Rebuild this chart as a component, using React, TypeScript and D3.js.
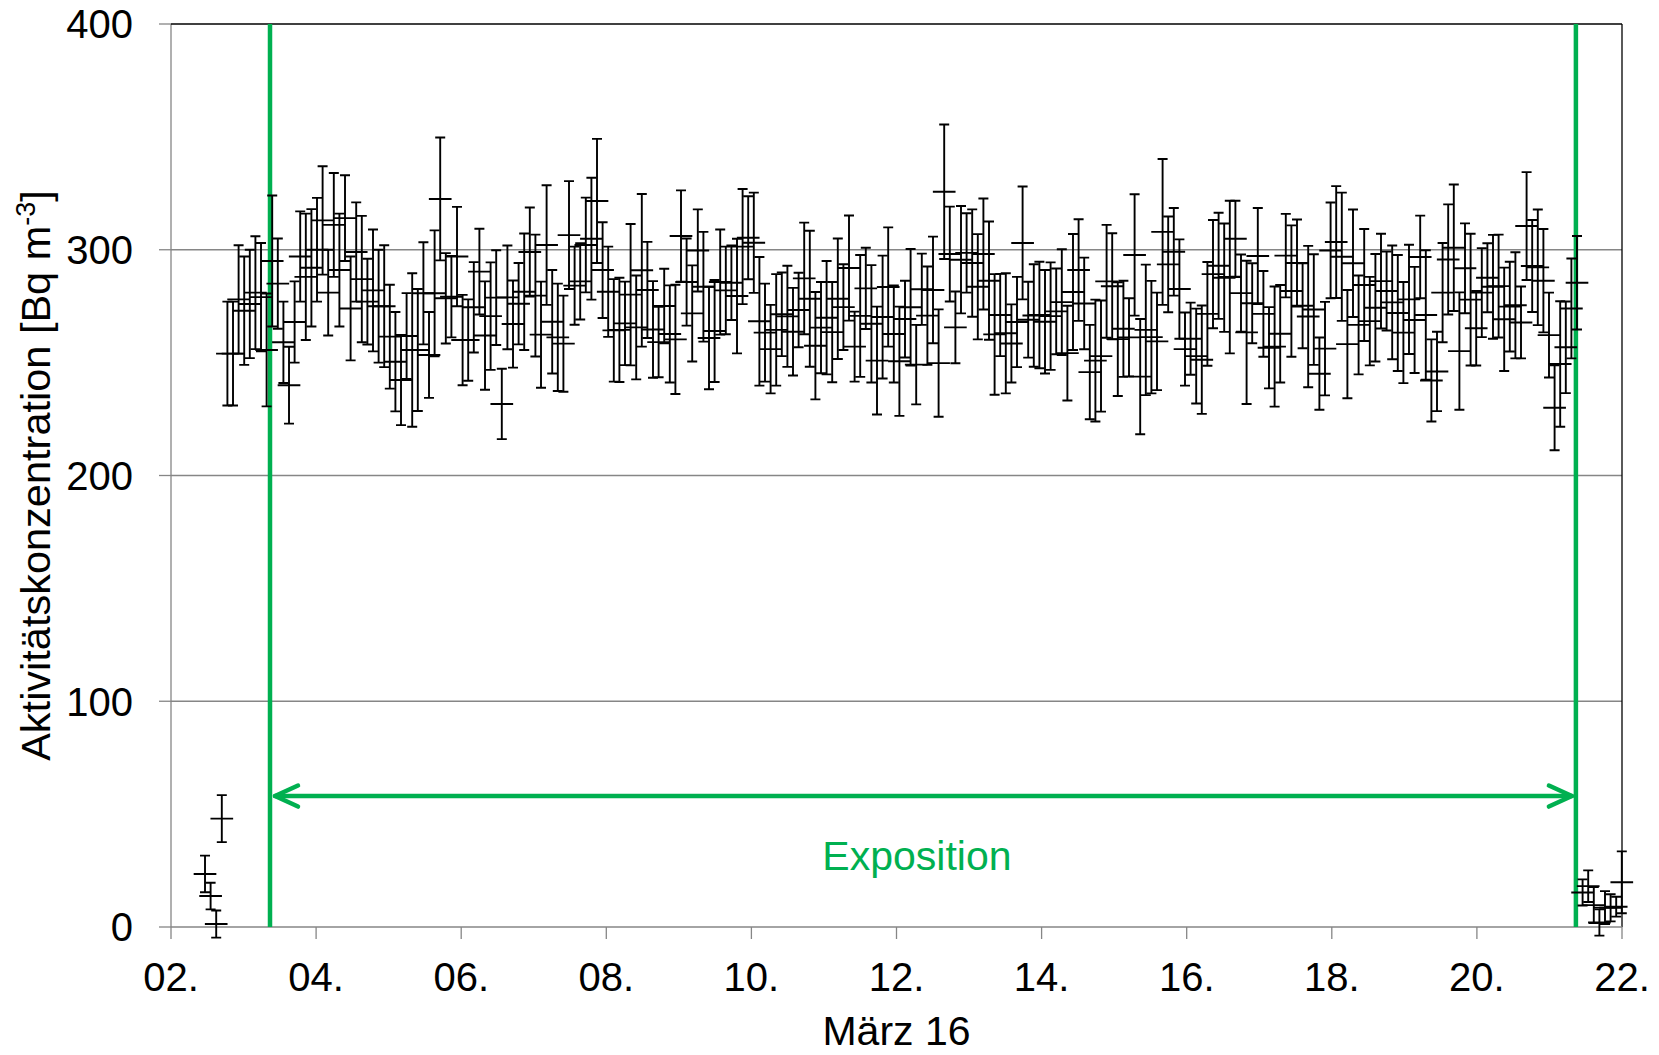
import React from "react";
import * as d3 from "d3";

// ---- data ----
const startTime = new Date(2016, 2, 2, 11, 15); // first measurement
const stepMinutes = 111.15; // sampling interval
const xErrHours = 3.75; // horizontal error (half width)

const activity: number[] = [
  23.5, 13.7, 1.3, 48,
  254, 254, 278, 273, 276, 281, 279, 255.6,
  295, 285, 259, 240, 268, 297, 288, 292, 300, 313,
  281, 311, 291, 314, 274, 299, 287, 277, 282, 275,
  275, 261.5, 250.4, 242.3, 261.8, 255.6, 255.6, 280.7, 253.4, 280.7,
  322.5, 278.5, 279.2, 297, 260, 260, 274.5, 290.3, 262,
  270.6, 278.8, 231.7, 278.9, 267.1, 276.1, 281.4, 299, 279.7, 262.4,
  302.1, 268.1, 261.2, 258.4, 306.5, 284.1, 286, 302.1, 304.9, 321.6,
  291, 281.4, 264.3, 264.5, 267.4, 280.1, 265.6, 290.9, 282.2, 264.7,
  259.1, 275.1, 262.7, 260.3, 306.1, 285.7, 271.8, 299.7, 283.6,
  260.9, 264, 285.7, 282, 285.4, 279.5, 301.4, 305.3, 303.1, 268.3,
  263.3, 256, 264.5, 271.4, 270.5, 263.7, 273.3, 287.3, 278.3, 257.5,
  265.5, 269.9, 263.5, 278.3, 274.6, 291.9, 257.1, 270.7, 282.9, 267.2,
  250.9, 270.2, 283.5, 262.7, 250.6, 269.3, 274.5, 249.1, 282.5,
  270.8, 282.2, 249.8, 325.7, 298.1, 265.6, 295.6, 298.6, 294.1, 283.6,
  298.1, 286.3, 262.5, 271.1, 263, 258.5, 268, 303, 269, 270.9,
  271.1, 268.1, 270.6, 272.7, 276.8, 254.2, 281.3, 291, 276.2, 245.8,
  250.9, 252.9, 286, 283.8, 260.4, 265, 261.2, 297.7, 243.8,
  264.5, 261.3, 259.4, 307.9, 293.5, 299.1, 282.6, 256, 260.6, 252.9,
  251.3, 271.6, 289.2, 292.9, 287.6, 287.9, 304.9, 280.8, 263.4, 276.3,
  297.2, 271.6, 256.6, 257.1, 262.8, 297.4, 281.7, 294.1, 275.2, 270.4,
  273.5, 245.1, 256.2, 299.7, 303.4, 296.9, 258.2, 294, 266.7,
  284.4, 268.4, 274.3, 286.1, 281.7, 276.7, 272, 263.3, 278, 268.9,
  296.8, 271.1, 242.1, 246.1, 281, 295.7, 300.9, 255.1, 291.8, 277.9,
  265.2, 281, 287.6, 283.6, 283.9, 269.2, 274.8, 275.4, 267.8, 310.5,
  292.8, 292.2, 286.3, 262.2, 230, 249.4, 256.8, 274, 285.4,
  15.3, 18.1, 9.7, 2, 8.6, 8.5, 9, 19.8,
];

const activityErr: number[] = [
  8.1, 5.9, 6, 10.4,
  23, 23, 24, 24, 24, 25, 24, 25,
  29, 20, 18, 17, 18, 20, 28, 26, 23, 24,
  19, 23, 25, 19, 23, 22, 28, 19, 27, 25,
  27, 23, 22, 20, 19, 34, 27, 22.6, 19, 27.9,
  27.2, 20, 18, 22, 20, 18, 20, 19, 24,
  23.8, 21, 15.6, 23, 19.3, 18, 25.8, 19.7, 27, 23.5,
  26.5, 22.9, 23.8, 21.3, 23.9, 17.3, 16.9, 21, 27, 27.5,
  21.2, 20, 22.7, 23.1, 18.5, 31.3, 23, 33.8, 21.3, 21.4,
  15.6, 16.5, 21.5, 24.2, 20.2, 19.3, 21.3, 18.2, 24.3,
  22.7, 22.6, 23.3, 19.4, 16.5, 25.4, 25.5, 18.4, 22.2, 28.5,
  21.7, 19.6, 24.7, 18.5, 22.4, 19.4, 16.5, 24.7, 30.1, 23.8,
  20.2, 25.1, 22.2, 26.7, 19, 23.3, 15.5, 27, 18, 26,
  23.9, 27.2, 26.4, 21.5, 24.2, 17, 25.8, 17.6, 15.8,
  21.8, 23.6, 23.8, 29.8, 21, 15.9, 23.8, 17.6, 23.8, 23.3,
  24.6, 26.2, 26.7, 18.2, 26.6, 17.3, 20, 25, 16.8, 22.7,
  23.6, 22.9, 23.8, 19, 23.4, 21, 25.7, 22.5, 20.3, 20.9,
  27, 24.6, 25, 23.5, 25.2, 21.3, 17.3, 26.9, 25.5,
  28.9, 24.9, 21.6, 32.3, 21.2, 19.4, 22, 16.2, 16, 21,
  24, 23, 24, 23.5, 24, 33.8, 16.8, 17.1, 31.7, 17.7,
  21.3, 19, 18, 26.6, 21.6, 18.5, 29.1, 19.3, 18.8, 31.3,
  24.5, 16, 20.7, 21.2, 24.8, 28.4, 24, 23.8, 21.9,
  24.8, 19.6, 23.8, 21, 17.5, 25.2, 25.7, 22.4, 24.2, 23.5,
  18.3, 28.7, 18.2, 17.6, 22, 24.4, 28, 26, 19.9, 29.2,
  16.5, 19.7, 15.3, 23, 22.8, 22.9, 19.9, 23.5, 15.9, 23.9,
  20.4, 25.6, 22.9, 18.8, 18.8, 27.8, 20.3, 22.1, 20.7,
  5.8, 7, 8, 5.8, 7.3, 6, 4.4, 13.7,
];

const xDomain = [new Date(2016, 2, 2), new Date(2016, 2, 22)];
const xTickDays = [0, 2, 4, 6, 8, 10, 12, 14, 16, 18, 20]; // days after 02.
const yTicks = [0, 100, 200, 300, 400];
const exposureStart = new Date(2016, 2, 3, 8, 45);
const exposureEnd = new Date(2016, 2, 21, 8, 45);
const exposureArrowValue = 58;
const exposureLabel = "Exposition";
const xTitle = "März 16";
const yTitle = "Aktivitätskonzentration [Bq m";
const yTitleSup = "-3";

// ---- layout ----
const W = 1659;
const H = 1055;
const L = 171, R = 1622, T = 24, B = 927;
const FONT = "'Liberation Sans', Arial, sans-serif";
const GREEN = "#00B050";
const GRAY = "#868686";

export default function App() {
  const x = d3.scaleTime().domain(xDomain).range([L, R]);
  const y = d3.scaleLinear().domain([0, 400]).range([B, T]);
  const xTicks = xTickDays.map((k) => d3.timeDay.offset(xDomain[0], k));
  const fmt = d3.timeFormat("%d.");

  const pts = activity.map((v, i) => ({
    t: new Date(startTime.getTime() + i * stepMinutes * 60000),
    v,
    e: activityErr[i],
  }));

  const capHalf = 5;
  const xl = x(exposureStart);
  const xr = x(exposureEnd);
  const ya = y(exposureArrowValue);
  const tipL = xl + 5;
  const tipR = xr - 4;

  return (
    <svg
      width={W}
      height={H}
      style={{ position: "absolute", left: 0, top: 0, display: "block", background: "#fff" }}
      fontFamily={FONT}
    >
      {/* gridlines */}
      {yTicks.filter((t) => t > 0 && t < 400).map((t) => (
        <line key={"g" + t} x1={L} x2={R} y1={y(t)} y2={y(t)} stroke={GRAY} strokeWidth={1.3} />
      ))}
      {/* y axis */}
      <line x1={L} x2={L} y1={T} y2={B} stroke={GRAY} strokeWidth={1.3} />
      {yTicks.map((t) => (
        <g key={"yt" + t}>
          <line x1={L - 12} x2={L} y1={y(t)} y2={y(t)} stroke={GRAY} strokeWidth={1.3} />
          <text x={133} y={y(t)} dy="0.358em" textAnchor="end" fontSize={40} fill="#000">
            {t}
          </text>
        </g>
      ))}
      {/* top / right border */}
      <line x1={L} x2={R} y1={T} y2={T} stroke="#000" strokeWidth={1.3} />
      <line x1={R} x2={R} y1={T} y2={B} stroke="#000" strokeWidth={1.3} />
      {/* x axis */}
      <line x1={L} x2={R} y1={B} y2={B} stroke={GRAY} strokeWidth={1.3} />
      {xTicks.map((d) => (
        <g key={"xt" + d.getTime()}>
          <line x1={x(d)} x2={x(d)} y1={B} y2={B + 12} stroke={GRAY} strokeWidth={1.3} />
          <text x={x(d)} y={991} textAnchor="middle" fontSize={40} fill="#000">
            {fmt(d)}
          </text>
        </g>
      ))}
      {/* exposure markers */}
      <line x1={xl} x2={xl} y1={T} y2={B} stroke={GREEN} strokeWidth={4.5} />
      <line x1={xr} x2={xr} y1={T} y2={B} stroke={GREEN} strokeWidth={4.5} />
      <g stroke={GREEN} strokeWidth={4.5} strokeLinecap="round" strokeLinejoin="round" fill="none">
        <line x1={tipL} x2={tipR} y1={ya} y2={ya} />
        <polyline points={`${tipL + 23},${ya - 10.5} ${tipL},${ya} ${tipL + 23},${ya + 10.5}`} />
        <polyline points={`${tipR - 23},${ya - 10.5} ${tipR},${ya} ${tipR - 23},${ya + 10.5}`} />
      </g>
      <text x={(xl + xr) / 2 - 6} y={870} textAnchor="middle" fontSize={41} fill={GREEN}>
        {exposureLabel}
      </text>
      {/* data with error bars */}
      <g stroke="#000" strokeWidth={1.9} fill="none">
        {pts.map((p, i) => {
          const cx = x(p.t);
          const cy = y(p.v);
          const y1 = y(p.v + p.e);
          const y2 = y(p.v - p.e);
          const xa = x(new Date(p.t.getTime() - xErrHours * 3600000));
          const xb = x(new Date(p.t.getTime() + xErrHours * 3600000));
          return (
            <path
              key={i}
              d={`M${cx},${y1}V${y2}M${cx - capHalf},${y1}H${cx + capHalf}M${cx - capHalf},${y2}H${cx + capHalf}M${xa},${cy}H${xb}`}
            />
          );
        })}
      </g>
      {/* axis titles */}
      <text x={(L + R) / 2} y={1045} textAnchor="middle" fontSize={41} fill="#000">
        {xTitle}
      </text>
      <text
        transform={`translate(50, ${(T + B) / 2}) rotate(-90)`}
        textAnchor="middle"
        fontSize={41.5}
        fill="#000"
      >
        {yTitle}
        <tspan fontSize={27} dy={-15}>{yTitleSup}</tspan>
        <tspan dy={15}>]</tspan>
      </text>
    </svg>
  );
}
